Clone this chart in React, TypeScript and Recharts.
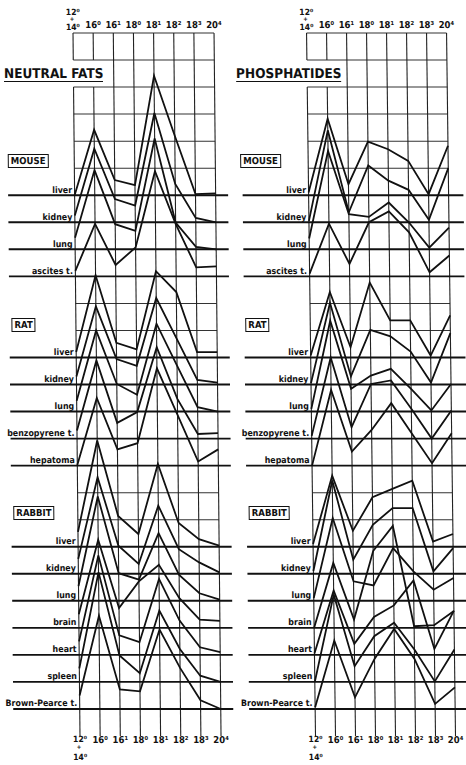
import React from 'react';
import { LineChart, Line, XAxis, YAxis, ReferenceLine, ReferenceDot } from 'recharts';

// ---- categories / tick labels ----
const TICK_LABELS = ['12⁰ + 14⁰', '16⁰', '16¹', '18⁰', '18¹', '18²', '18³', '20⁴'];

const MOUSE_TISSUES = ['liver', 'kidney', 'lung', 'ascites t.'];
const RAT_TISSUES = ['liver', 'kidney', 'lung', 'benzopyrene t.', 'hepatoma'];
const RABBIT_TISSUES = ['liver', 'kidney', 'lung', 'brain', 'heart', 'spleen', 'Brown-Pearce t.'];

// ---- NEUTRAL FATS (grid units above each tissue's baseline) ----
const NF_MOUSE_LIVER = [0.0, 2.42, 0.56, 0.37, 4.42, 2.2, 0.04, 0.07];
const NF_MOUSE_KIDNEY = [0.25, 2.72, 0.86, 0.62, 4.04, 1.42, 0.16, 0.0];
const NF_MOUSE_LUNG = [0.43, 2.93, 0.93, 0.68, 4.1, 0.99, 0.09, 0.0];
const NF_MOUSE_ASCITES = [0.2, 1.94, 0.42, 1.07, 3.89, 1.94, 0.33, 0.37];

const NF_RAT_LIVER = [0.2, 3.04, 0.54, 0.3, 3.19, 2.42, 0.2, 0.2];
const NF_RAT_KIDNEY = [0.3, 2.89, 0.94, 0.69, 3.2, 1.69, 0.17, 0.07];
const NF_RAT_LUNG = [0.4, 3.0, 1.02, 0.62, 3.25, 1.7, 0.16, 0.0];
const NF_RAT_BENZOPYRENE = [0.3, 2.89, 0.58, 0.98, 3.38, 1.47, 0.17, 0.2];
const NF_RAT_HEPATOMA = [0.02, 2.5, 0.6, 0.83, 3.6, 1.88, 0.15, 0.6];

const NF_RABBIT_LIVER = [0.55, 3.93, 1.14, 0.47, 3.06, 0.88, 0.28, 0.04];
const NF_RABBIT_KIDNEY = [0.55, 3.57, 1.04, 0.36, 2.52, 0.91, 0.42, 0.05];
const NF_RABBIT_LUNG = [0.55, 3.86, 1.02, 0.78, 2.5, 0.96, 0.28, 0.04];
const NF_RABBIT_BRAIN = [0.5, 3.26, 0.73, 1.72, 2.33, 1.1, 0.3, 0.26];
const NF_RABBIT_HEART = [0.5, 3.68, 0.72, 0.47, 2.81, 1.27, 0.28, 0.1];
const NF_RABBIT_SPLEEN = [0.5, 4.06, 0.98, 0.32, 2.64, 1.22, 0.23, 0.0];
const NF_RABBIT_BROWNPEARCE = [0.5, 3.45, 0.72, 0.65, 2.94, 1.52, 0.32, 0.0];

// ---- PHOSPHATIDES ----
const PH_MOUSE_LIVER = [0.1, 2.83, 0.41, 1.98, 1.7, 1.27, 0.04, 1.83];
const PH_MOUSE_KIDNEY = [0.05, 3.4, 0.37, 2.1, 1.54, 1.2, 0.09, 2.0];
const PH_MOUSE_LUNG = [0.4, 3.64, 1.3, 1.2, 1.73, 0.99, 0.06, 0.8];
const PH_MOUSE_ASCITES = [0.1, 1.95, 0.46, 2.0, 2.4, 1.63, 0.15, 0.77];

const PH_RAT_LIVER = [0.07, 2.42, 0.38, 2.77, 1.37, 1.37, 0.07, 1.56];
const PH_RAT_KIDNEY = [0.05, 3.02, 0.3, 2.02, 1.78, 1.22, 0.07, 1.9];
const PH_RAT_LUNG = [0.1, 3.36, 0.84, 1.33, 1.58, 0.84, 0.04, 1.02];
const PH_RAT_BENZOPYRENE = [0.1, 3.0, 0.42, 2.02, 2.15, 1.1, 0.0, 1.04];
const PH_RAT_HEPATOMA = [0.0, 2.8, 0.52, 1.32, 2.31, 1.2, 0.09, 1.2];

const PH_RABBIT_LIVER = [0.1, 2.63, 0.59, 1.83, 2.14, 2.44, 0.19, 0.47];
const PH_RABBIT_KIDNEY = [0.1, 3.45, 0.52, 1.81, 2.43, 2.43, 0.09, 0.95];
const PH_RABBIT_LUNG = [0.1, 3.06, 0.72, 0.57, 1.95, 1.09, 0.41, 0.84];
const PH_RABBIT_BRAIN = [0.0, 2.4, 0.31, 2.84, 3.77, 0.06, 0.1, 0.62];
const PH_RABBIT_HEART = [0.05, 2.38, 0.41, 1.4, 1.83, 2.75, 0.22, 1.64];
const PH_RABBIT_SPLEEN = [0.0, 3.23, 0.58, 1.69, 2.19, 1.2, 0.02, 1.2];
const PH_RABBIT_BROWNPEARCE = [0.06, 2.53, 0.43, 1.85, 2.96, 1.85, 0.19, 0.8];

// ---- layout (grid rows, counted from the bottom) ----
const MOUSE_ROWS = [20, 19, 18, 17];
const RAT_ROWS = [14, 13, 12, 11, 10];
const RABBIT_ROWS = [7, 6, 5, 4, 3, 2, 1];
const GRID_ROWS = [26, 25, 24, 23, 22, 21, 16, 15, 9, 8];
const TOP_ROW = 26;
const FONT = "'DejaVu Sans Condensed', 'DejaVu Sans', sans-serif";

type Group = { name: string; boxTop: number; boxLeft: number; tissues: string[]; rows: number[]; values: number[][] };

const NF_GROUPS: Group[] = [
  { name: 'MOUSE', boxTop: 154, boxLeft: 10, tissues: MOUSE_TISSUES, rows: MOUSE_ROWS, values: [NF_MOUSE_LIVER, NF_MOUSE_KIDNEY, NF_MOUSE_LUNG, NF_MOUSE_ASCITES] },
  { name: 'RAT', boxTop: 318, boxLeft: 12, tissues: RAT_TISSUES, rows: RAT_ROWS, values: [NF_RAT_LIVER, NF_RAT_KIDNEY, NF_RAT_LUNG, NF_RAT_BENZOPYRENE, NF_RAT_HEPATOMA] },
  { name: 'RABBIT', boxTop: 506, boxLeft: 12, tissues: RABBIT_TISSUES, rows: RABBIT_ROWS, values: [NF_RABBIT_LIVER, NF_RABBIT_KIDNEY, NF_RABBIT_LUNG, NF_RABBIT_BRAIN, NF_RABBIT_HEART, NF_RABBIT_SPLEEN, NF_RABBIT_BROWNPEARCE] },
];
const PH_GROUPS: Group[] = [
  { name: 'MOUSE', boxTop: 154, boxLeft: 10, tissues: MOUSE_TISSUES, rows: MOUSE_ROWS, values: [PH_MOUSE_LIVER, PH_MOUSE_KIDNEY, PH_MOUSE_LUNG, PH_MOUSE_ASCITES] },
  { name: 'RAT', boxTop: 318, boxLeft: 13, tissues: RAT_TISSUES, rows: RAT_ROWS, values: [PH_RAT_LIVER, PH_RAT_KIDNEY, PH_RAT_LUNG, PH_RAT_BENZOPYRENE, PH_RAT_HEPATOMA] },
  { name: 'RABBIT', boxTop: 506, boxLeft: 14, tissues: RABBIT_TISSUES, rows: RABBIT_ROWS, values: [PH_RABBIT_LIVER, PH_RABBIT_KIDNEY, PH_RABBIT_LUNG, PH_RABBIT_BRAIN, PH_RABBIT_HEART, PH_RABBIT_SPLEEN, PH_RABBIT_BROWNPEARCE] },
];

const COLS = TICK_LABELS.map((_, i) => i);

function StackedLabel({ x, parts, y1, y2, y3 }: { x: number; parts: string[]; y1: number; y2: number; y3: number }) {
  return (
    <g fontFamily={FONT} fontWeight="bold" fill="#111" textAnchor="middle">
      <text x={x} y={y1} fontSize={8.5}>{parts[0]}</text>
      <text x={x - 1} y={y2} fontSize={6}>+</text>
      <text x={x} y={y3} fontSize={8.5}>{parts[1]}</text>
    </g>
  );
}

function TopTick(props: any) {
  const { x, payload } = props;
  const lab = TICK_LABELS[payload.value];
  const parts = lab.split(' + ');
  if (parts.length === 2) return <StackedLabel x={x} parts={parts} y1={15} y2={21.5} y3={30} />;
  return <text x={x} y={28} fontFamily={FONT} fontWeight="bold" fontSize={9.5} fill="#111" textAnchor="middle">{lab}</text>;
}

function BottomTick(props: any) {
  const { x, payload } = props;
  const lab = TICK_LABELS[payload.value];
  const parts = lab.split(' + ');
  if (parts.length === 2) return <StackedLabel x={x} parts={parts} y1={742} y2={749} y3={760} />;
  return <text x={x} y={743} fontFamily={FONT} fontWeight="bold" fontSize={9.5} fill="#111" textAnchor="middle">{lab}</text>;
}

function Panel({ title, groups, left, skew, domain, marginLeft, marginRight }:
  { title: string; groups: Group[]; left: number; skew: number; domain: [number, number]; marginLeft: number; marginRight: number }) {
  const data = COLS.map((i) => {
    const row: Record<string, number> = { x: i };
    groups.forEach((g, gi) => g.values.forEach((v, ti) => { row[`s${gi}_${ti}`] = g.rows[ti] + v[i]; }));
    return row;
  });
  return (
    <div style={{ position: 'absolute', left, top: 0, width: 233, height: 765, transform: `skewX(${skew}deg)`, transformOrigin: '50% 50%' }}>
      <LineChart width={233} height={765} data={data} margin={{ top: 3, bottom: 2, left: marginLeft, right: marginRight }}>
        <XAxis xAxisId="top" orientation="top" type="number" dataKey="x" domain={domain} ticks={COLS} interval={0}
          allowDataOverflow axisLine={false} tickLine={false} height={30} tick={<TopTick />} />
        <XAxis xAxisId="bottom" orientation="bottom" type="number" dataKey="x" domain={domain} ticks={COLS} interval={0}
          allowDataOverflow axisLine={false} tickLine={false} height={27} tick={<BottomTick />} />
        <YAxis type="number" domain={[0, TOP_ROW]} hide allowDataOverflow />
        {GRID_ROWS.map((r) => (
          <ReferenceLine key={`g${r}`} xAxisId="bottom" segment={[{ x: 0, y: r }, { x: COLS.length - 1, y: r }]} stroke="#333" strokeWidth={1} />
        ))}
        {COLS.map((c) => (c < 2 ? (
          [<ReferenceLine key={`va${c}`} xAxisId="bottom" segment={[{ x: c, y: 0 }, { x: c, y: 24 }]} stroke="#222" strokeWidth={1.1} />,
           <ReferenceLine key={`vb${c}`} xAxisId="bottom" segment={[{ x: c, y: 25 }, { x: c, y: TOP_ROW }]} stroke="#222" strokeWidth={1.1} />]
        ) : (
          <ReferenceLine key={`v${c}`} xAxisId="bottom" segment={[{ x: c, y: 0 }, { x: c, y: TOP_ROW }]} stroke="#222" strokeWidth={1.1} />
        )))}
        {groups.map((g) => g.rows.map((r, ti) => (
          <ReferenceLine key={`b${g.name}${ti}`} xAxisId="bottom" y={r} stroke="#111" strokeWidth={1.9} />
        )))}
        {groups.map((g) => g.rows.map((r, ti) => (
          <ReferenceDot key={`l${g.name}${ti}`} xAxisId="bottom" x={0} y={r} r={0}
            shape={(p: any) => (
              <text x={p.cx - 2.5} y={p.cy - 2.5} textAnchor="end" fontFamily={FONT} fontWeight="bold" fontSize={8.8} fill="#111">{g.tissues[ti]}</text>
            )} />
        )))}
        {groups.map((g, gi) => g.values.map((_, ti) => (
          <Line key={`s${gi}_${ti}`} xAxisId="bottom" type="linear" dataKey={`s${gi}_${ti}`} stroke="#111" strokeWidth={1.8}
            dot={false} activeDot={false} isAnimationActive={false} strokeLinejoin="miter" />
        )))}
      </LineChart>
      <div style={{ position: 'absolute', left: 7, top: 66, fontFamily: FONT, fontWeight: 'bold', fontSize: 13.5, color: '#111',
        borderBottom: '1.6px solid #111', lineHeight: '14px', paddingBottom: 1, letterSpacing: 0 }}>{title}</div>
      {groups.map((g) => (
        <div key={`box${g.name}`} style={{ position: 'absolute', left: g.boxLeft, top: g.boxTop, border: '1.5px solid #111',
          fontFamily: FONT, fontWeight: 'bold', fontSize: 9.5, lineHeight: '12px', padding: '0 2px', color: '#111' }}>{g.name}</div>
      ))}
    </div>
  );
}

export default function App() {
  return (
    <div style={{ position: 'absolute', left: 0, top: 0, width: 466, height: 765, background: '#fff', overflow: 'hidden' }}>
      <Panel title="NEUTRAL FATS" groups={NF_GROUPS} left={0} skew={0.57} domain={[-3.3, 7.62]} marginLeft={10} marginRight={3} />
      <Panel title="PHOSPHATIDES" groups={PH_GROUPS} left={233} skew={0.73} domain={[-3.3, 7.75]} marginLeft={12} marginRight={0} />
    </div>
  );
}
